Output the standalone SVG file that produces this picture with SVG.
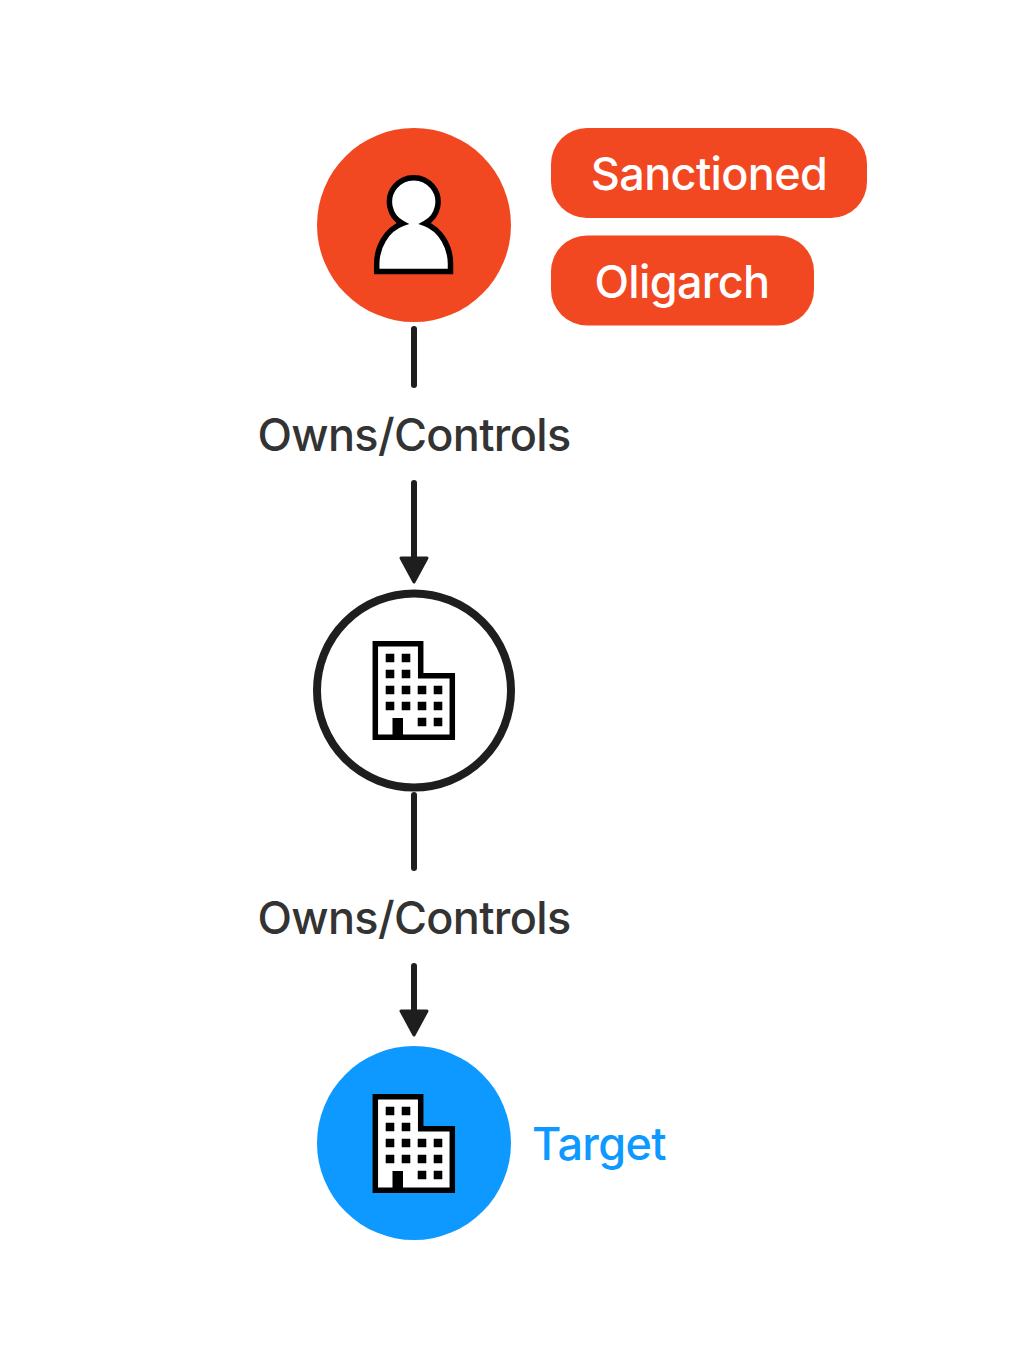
<svg xmlns="http://www.w3.org/2000/svg" width="1014" height="1358" viewBox="0 0 1014 1358">
<style>
.t{font-family:Inter,"Liberation Sans",sans-serif;font-size:45px;font-weight:450;letter-spacing:-.65px}
.w{fill:#fff;text-anchor:middle}
.l{fill:#333;text-anchor:middle}
.c{fill:none;stroke:#1e1e1e;stroke-width:6;stroke-linecap:round}
.h{fill:#1e1e1e;stroke:#1e1e1e;stroke-width:3;stroke-linejoin:round}
.i{fill:#fff;stroke:#000;stroke-width:5.5}
.r{fill:#f24822}
</style>
<defs>
<g id="bld">
<path class="i" d="M375.300 643.700H420.700V675.700H452.300V737.300H375.300Z"/>
<path d="M385.700 653.700h8.600v8.600h-8.600zM401.700 653.700h8.600v8.600h-8.600zM385.700 669.700h8.600v8.600h-8.600zM401.700 669.700h8.600v8.600h-8.600zM385.700 685.700h8.600v8.600h-8.600zM401.700 685.700h8.600v8.600h-8.600zM417.700 685.700h8.600v8.600h-8.600zM433.700 685.700h8.600v8.600h-8.600zM385.700 701.700h8.600v8.600h-8.600zM401.700 701.700h8.600v8.600h-8.600zM417.700 701.700h8.600v8.600h-8.600zM433.700 701.700h8.600v8.600h-8.600zM417.700 717.700h8.600v8.600h-8.600zM433.700 717.700h8.600v8.600h-8.600zM392.500 718h10.500v22h-10.500z"/>
</g>
</defs>
<g id="connectors">
<path class="c" d="M414 329V385"/>
<path class="c" d="M414 483V558"/>
<path class="h" d="M401 558H427L414 582Z"/>
<path class="c" d="M414 795V868"/>
<path class="c" d="M414 966V1011"/>
<path class="h" d="M401 1011H427L414 1035Z"/>
<text class="t l" x="414" y="451">Owns/Controls</text>
<text class="t l" x="414" y="934">Owns/Controls</text>
</g>
<g id="oligarch">
<circle class="r" cx="414" cy="225" r="97"/>
<path class="i" d="M376.700 271.500V266A37 43 0 0 1 402.500 223.500A24.300 24.300 0 1 1 425 223.500A37 43 0 0 1 450.500 266V271.500Z"/>
</g>
<g id="tag-sanctioned">
<rect class="r" x="551" y="128" width="316" height="90" rx="36"/>
<text class="t w" x="709" y="190">Sanctioned</text>
</g>
<g id="tag-oligarch">
<rect class="r" x="551" y="235.500" width="263" height="90" rx="36"/>
<text class="t w" x="682" y="298">Oligarch</text>
</g>
<g id="company">
<circle cx="414" cy="690.500" r="97" fill="#fff" stroke="#1e1e1e" stroke-width="8"/>
<use href="#bld"/>
</g>
<g id="target">
<circle cx="414" cy="1143" r="97" fill="#0d99ff"/>
<use href="#bld" y="453"/>
<text class="t" x="532" y="1160" fill="#0d99ff">Target</text>
</g>
</svg>
